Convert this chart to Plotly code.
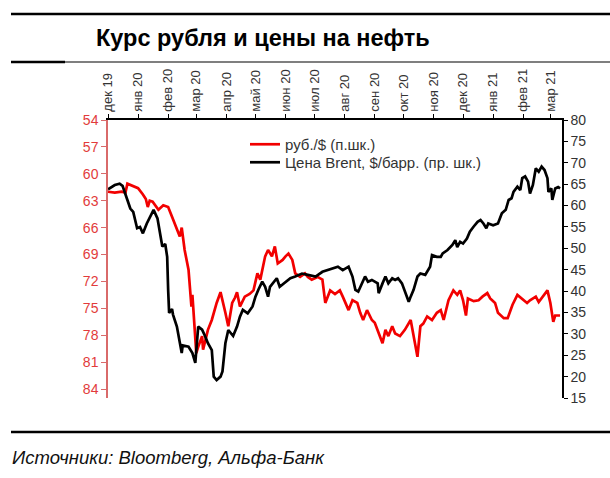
import plotly.graph_objects as go

# ---------------- data ----------------
month_ticks = ["2019-12-01", "2020-01-01", "2020-02-01", "2020-03-01", "2020-04-01",
               "2020-05-01", "2020-06-01", "2020-07-01", "2020-08-01", "2020-09-01",
               "2020-10-01", "2020-11-01", "2020-12-01", "2021-01-01", "2021-02-01",
               "2021-03-01"]
month_labels = ["дек 19", "янв 20", "фев 20", "мар 20", "апр 20", "май 20", "июн 20",
                "июл 20", "авг 20", "сен 20", "окт 20", "ноя 20", "дек 20", "янв 21",
                "фев 21", "мар 21"]

rub_dates = ["2019-12-01", "2019-12-08", "2019-12-15", "2019-12-19", "2019-12-21", "2019-12-26",
             "2020-01-01", "2020-01-06", "2020-01-09", "2020-01-11", "2020-01-13", "2020-01-16",
             "2020-01-22", "2020-01-27", "2020-02-01", "2020-02-05", "2020-02-10", "2020-02-13",
             "2020-02-15", "2020-02-18", "2020-02-22", "2020-02-24", "2020-02-25", "2020-02-26",
             "2020-02-28", "2020-03-01", "2020-03-03", "2020-03-07", "2020-03-08", "2020-03-10",
             "2020-03-13", "2020-03-17", "2020-03-22", "2020-03-26", "2020-03-29", "2020-03-31",
             "2020-04-03", "2020-04-07", "2020-04-10", "2020-04-12", "2020-04-15", "2020-04-20",
             "2020-04-25", "2020-04-29", "2020-05-03", "2020-05-06", "2020-05-11", "2020-05-14",
             "2020-05-18", "2020-05-21", "2020-05-24", "2020-05-29", "2020-06-01", "2020-06-04",
             "2020-06-08", "2020-06-11", "2020-06-16", "2020-06-21", "2020-06-24", "2020-06-28",
             "2020-07-04", "2020-07-09", "2020-07-12", "2020-07-15", "2020-07-17", "2020-07-22",
             "2020-07-27", "2020-07-30", "2020-08-05", "2020-08-09", "2020-08-14", "2020-08-17",
             "2020-08-20", "2020-08-24", "2020-08-29", "2020-09-01", "2020-09-05", "2020-09-09",
             "2020-09-12", "2020-09-15", "2020-09-19", "2020-09-22", "2020-09-27", "2020-10-02",
             "2020-10-08", "2020-10-11", "2020-10-15", "2020-10-18", "2020-10-21", "2020-10-25",
             "2020-10-30", "2020-11-04", "2020-11-08", "2020-11-11", "2020-11-16", "2020-11-21",
             "2020-11-25", "2020-11-28", "2020-12-01", "2020-12-04", "2020-12-06", "2020-12-12",
             "2020-12-17", "2020-12-21", "2020-12-26", "2020-12-29", "2021-01-03", "2021-01-06",
             "2021-01-12", "2021-01-16", "2021-01-21", "2021-01-26", "2021-01-31", "2021-02-05",
             "2021-02-08", "2021-02-14", "2021-02-17", "2021-02-21", "2021-02-26", "2021-03-01",
             "2021-03-04", "2021-03-06", "2021-03-11"]
rub_values = [62.0, 62.1, 62.0, 62.1, 61.1, 61.3,
              61.6, 62.3, 62.8, 63.7, 63.0, 63.1,
              64.0, 63.5, 63.7, 64.8, 66.3, 67.0,
              66.0, 68.5, 70.7, 73.0, 74.8, 73.5,
              76.7, 80.0, 79.3, 78.1, 79.6, 78.8,
              77.4, 76.3, 74.4, 73.2, 74.4, 75.5,
              77.0, 74.4, 73.8, 73.2, 74.8, 73.7,
              73.4, 73.0, 71.1, 71.8, 69.2, 68.5,
              69.2, 68.1, 70.0, 69.6, 69.2, 68.9,
              69.6, 71.1, 71.5, 71.1, 71.5, 71.8,
              71.5, 71.8, 74.4, 73.4, 73.0, 73.4,
              73.0, 73.7, 75.2, 74.1, 74.4, 75.5,
              76.3, 75.2, 76.3, 76.6, 77.8, 78.9,
              77.4, 78.1, 77.0, 77.8, 78.1, 77.4,
              76.3, 78.1, 80.4, 77.0, 76.7, 75.9,
              76.3, 75.5, 75.2, 76.3, 74.1, 73.0,
              73.5, 73.0, 74.1, 75.8, 73.9, 74.2,
              74.1, 73.7, 73.3, 73.9, 74.4, 75.5,
              76.1, 76.1, 74.6, 73.5, 73.9, 74.4,
              74.1, 73.7, 74.3, 73.7, 73.0, 74.4,
              76.5, 75.8, 75.8]

brent_dates = ["2019-12-01", "2019-12-08", "2019-12-13", "2019-12-16", "2019-12-21", "2019-12-24",
               "2019-12-27", "2019-12-31", "2020-01-03", "2020-01-06", "2020-01-10", "2020-01-15",
               "2020-01-17", "2020-01-21", "2020-01-24", "2020-01-26", "2020-01-29", "2020-01-31",
               "2020-02-01", "2020-02-02", "2020-02-05", "2020-02-06", "2020-02-10", "2020-02-13",
               "2020-02-15", "2020-02-16", "2020-02-22", "2020-02-26", "2020-02-29", "2020-03-03",
               "2020-03-07", "2020-03-10", "2020-03-13", "2020-03-17", "2020-03-19", "2020-03-22",
               "2020-03-26", "2020-03-28", "2020-03-31", "2020-04-03", "2020-04-08", "2020-04-12",
               "2020-04-15", "2020-04-18", "2020-04-23", "2020-04-28", "2020-05-01", "2020-05-04",
               "2020-05-08", "2020-05-11", "2020-05-14", "2020-05-16", "2020-05-19", "2020-05-23",
               "2020-05-26", "2020-06-01", "2020-06-06", "2020-06-11", "2020-06-18", "2020-06-24",
               "2020-07-02", "2020-07-09", "2020-07-14", "2020-07-19", "2020-07-25", "2020-07-30",
               "2020-08-05", "2020-08-09", "2020-08-12", "2020-08-15", "2020-08-19", "2020-08-22",
               "2020-08-25", "2020-08-29", "2020-09-04", "2020-09-05", "2020-09-09", "2020-09-12",
               "2020-09-15", "2020-09-19", "2020-09-22", "2020-09-25", "2020-09-29", "2020-10-02",
               "2020-10-06", "2020-10-08", "2020-10-11", "2020-10-15", "2020-10-18", "2020-10-23",
               "2020-10-28", "2020-10-30", "2020-11-04", "2020-11-08", "2020-11-10", "2020-11-15",
               "2020-11-20", "2020-11-23", "2020-11-25", "2020-11-28", "2020-12-01", "2020-12-05",
               "2020-12-08", "2020-12-12", "2020-12-16", "2020-12-19", "2020-12-22", "2020-12-25",
               "2020-12-27", "2021-01-01", "2021-01-06", "2021-01-10", "2021-01-14", "2021-01-17",
               "2021-01-20", "2021-01-22", "2021-01-26", "2021-01-29", "2021-01-31", "2021-02-03",
               "2021-02-06", "2021-02-08", "2021-02-11", "2021-02-14", "2021-02-17", "2021-02-20",
               "2021-02-23", "2021-02-26", "2021-02-27", "2021-03-02", "2021-03-03", "2021-03-06",
               "2021-03-09", "2021-03-11"]
brent_values = [63.8, 64.8, 65.1, 64.6, 61.3, 59.3,
                58.5, 54.7, 55.0, 53.5, 55.8, 58.2,
                59.0, 57.0, 52.7, 50.4, 51.0, 48.0,
                40.3, 34.9, 35.8, 34.5, 31.7, 27.8,
                25.5, 27.3, 27.0, 25.5, 23.2, 31.7,
                31.0, 29.5, 27.8, 26.2, 20.0, 19.2,
                20.0, 21.2, 27.8, 30.9, 29.5, 31.7,
                34.0, 35.6, 34.8, 36.4, 38.7, 40.3,
                42.2, 41.0, 38.7, 41.0, 41.8, 43.0,
                41.0, 42.2, 43.0, 43.4, 44.1, 43.8,
                43.4, 44.5, 44.9, 45.3, 45.7, 44.9,
                45.7, 43.4, 40.3, 39.9, 41.8, 43.4,
                42.2, 42.6, 41.8, 39.5, 41.8, 43.4,
                41.8, 43.0, 42.6, 43.0, 41.8, 39.9,
                37.5, 38.7, 40.3, 43.4, 44.1, 43.8,
                45.7, 48.4, 48.0, 48.0, 48.8, 49.6,
                50.8, 51.9, 50.3, 51.5, 51.1, 52.3,
                53.9, 55.1, 56.2, 56.6, 55.8, 54.7,
                55.8, 55.4, 55.8, 58.2, 59.0, 61.3,
                61.7, 63.2, 64.4, 63.6, 66.4, 66.8,
                65.6, 62.8, 64.8, 68.7, 67.9, 69.1,
                68.3, 66.4, 63.2, 64.0, 61.3, 64.0,
                64.3, 64.0]

left_ticks = [54, 57, 60, 63, 66, 69, 72, 75, 78, 81, 84]
right_ticks = [15, 20, 25, 30, 35, 40, 45, 50, 55, 60, 65, 70, 75, 80]

# ---------------- layout geometry (pixels) ----------------
W, H = 610, 478
L, R, T, B = 108, 48, 120, 80
PW, PH = W - L - R, H - T - B


def px(x):
    return (x - L) / PW


def py(y):
    return (H - B - y) / PH


FONT = "Liberation Sans, Arial, sans-serif"
RED = "#F20000"
AXRED = "#E23B3B"

fig = go.Figure()
fig.add_trace(go.Scatter(x=rub_dates, y=rub_values, mode="lines", name="руб./$ (п.шк.)",
                         line=dict(color=RED, width=2.7), yaxis="y", legend="legend"))
fig.add_trace(go.Scatter(x=brent_dates, y=brent_values, mode="lines",
                         name="Цена Brent, $/барр. (пр. шк.)",
                         line=dict(color="#000000", width=2.7), yaxis="y2", legend="legend2"))

leg_common = dict(xanchor="left", yanchor="top", bgcolor="rgba(0,0,0,0)", borderwidth=0,
                  font=dict(size=15, color="#333333", family=FONT), itemwidth=30)

fig.update_layout(
    width=W, height=H,
    margin=dict(l=L, r=R, t=T, b=B, pad=0),
    paper_bgcolor="white", plot_bgcolor="white",
    font=dict(family=FONT, color="#333333"),
    showlegend=True,
    legend=dict(x=px(245), y=py(128), **leg_common),
    legend2=dict(x=px(245), y=py(146), **leg_common),
    xaxis=dict(type="date", side="top", range=["2019-12-01", "2021-03-13"],
               tickvals=month_ticks, ticktext=month_labels, tickangle=-90,
               ticks="outside", ticklen=4, tickwidth=1.2, tickcolor="#000",
               showline=True, linecolor="#000", linewidth=1.5,
               showgrid=False, zeroline=False,
               tickfont=dict(size=13, color="#333333", family=FONT)),
    yaxis=dict(range=[85, 54], tickvals=left_ticks, side="left",
               ticks="outside", ticklen=5, tickwidth=1.2, tickcolor="#D96A6A",
               showline=True, linecolor="#D96A6A", linewidth=1.5,
               showgrid=False, zeroline=False,
               tickfont=dict(size=14, color=AXRED, family=FONT)),
    yaxis2=dict(range=[15, 80], tickvals=right_ticks, side="right", overlaying="y",
                anchor="x", ticks="outside", ticklen=4, tickwidth=1.2, tickcolor="#000",
                showline=True, linecolor="#000", linewidth=1.5,
                showgrid=False, zeroline=False,
                tickfont=dict(size=14, color="#333333", family=FONT)),
)

# decorative rules
shapes = [
    dict(type="line", xref="paper", yref="paper", x0=px(11), x1=px(610), y0=py(14), y1=py(14),
         line=dict(color="#000", width=2.5)),
    dict(type="line", xref="paper", yref="paper", x0=px(11), x1=px(65), y0=py(62), y1=py(62),
         line=dict(color="#000", width=2.5)),
    dict(type="line", xref="paper", yref="paper", x0=px(65), x1=px(610), y0=py(62), y1=py(62),
         line=dict(color="#000", width=1.2)),
    dict(type="line", xref="paper", yref="paper", x0=px(11), x1=px(610), y0=py(432), y1=py(432),
         line=dict(color="#000", width=2.5)),
]
fig.update_layout(shapes=shapes)

fig.add_annotation(text="<b>Курс рубля и цены на нефть</b>", xref="paper", yref="paper",
                   x=px(94), y=py(38), xanchor="left", yanchor="middle", showarrow=False,
                   font=dict(size=23.5, color="#000", family=FONT))
fig.add_annotation(text="<i>Источники: Bloomberg, Альфа-Банк</i>", xref="paper", yref="paper",
                   x=px(10), y=py(457), xanchor="left", yanchor="middle", showarrow=False,
                   font=dict(size=18.5, color="#111", family=FONT))

fig.write_html("out.html")
